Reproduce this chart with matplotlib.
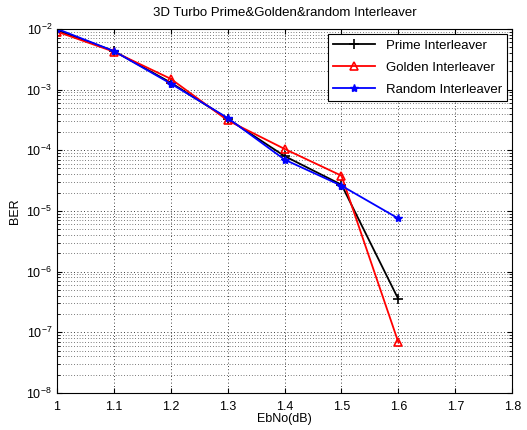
import numpy as np
import matplotlib.pyplot as plt
from matplotlib.ticker import NullFormatter, FixedLocator

plt.rcParams['font.family'] = ['Liberation Sans', 'DejaVu Sans']

# podaci ocitani sa slike
ebno = [1.0, 1.1, 1.2, 1.3, 1.4, 1.5, 1.6]
ber_prime = [9.5e-3, 4.3e-3, 1.3e-3, 3.3e-4, 8.0e-5, 2.7e-5, 3.5e-7]
ber_golden = [9.0e-3, 4.2e-3, 1.5e-3, 3.1e-4, 1.05e-4, 3.8e-5, 6.8e-8]
ber_random = [1.0e-2, 4.3e-3, 1.25e-3, 3.4e-4, 7.0e-5, 2.6e-5, 7.5e-6]

fig = plt.figure(figsize=(5.27, 4.30), dpi=100)
ax = fig.add_axes([0.108, 0.086, 0.864, 0.847])

ax.semilogy(ebno, ber_prime, 'k-', marker='+', markersize=7, linewidth=1.3,
            markeredgewidth=1.2, label='Prime Interleaver')
ax.semilogy(ebno, ber_golden, 'r-', marker='^', markersize=6, linewidth=1.3,
            markerfacecolor='none', markeredgewidth=1.2, label='Golden Interleaver')
ax.semilogy(ebno, ber_random, 'b-', marker='*', markersize=6, linewidth=1.3,
            label='Random Interleaver')

ax.set_xlim(1, 1.8)
ax.set_ylim(1e-8, 1e-2)
ax.set_xticks(np.arange(1, 1.81, 0.1))
ax.set_xticklabels(['1', '1.1', '1.2', '1.3', '1.4', '1.5', '1.6', '1.7', '1.8'])
ax.yaxis.set_major_locator(FixedLocator([10.0 ** e for e in range(-8, -1)]))
ax.yaxis.set_minor_formatter(NullFormatter())

# MATLAB-ov tockasti grid
ax.grid(True, which='major', linestyle=(0, (1, 3)), color='k', linewidth=0.6)
ax.grid(True, which='minor', axis='y', linestyle=(0, (1, 3)), color='k', linewidth=0.5)
ax.tick_params(which='both', direction='in', top=True, right=True, labelsize=9)
ax.tick_params(axis='x', pad=6)

ax.set_title('3D Turbo Prime&Golden&random Interleaver', fontsize=9.5, pad=9)
ax.set_xlabel('EbNo(dB)', fontsize=9, labelpad=0)
ax.set_ylabel('BER', fontsize=9, labelpad=4)

leg = ax.legend(loc='upper right', fontsize=9.5, fancybox=False, framealpha=1,
                edgecolor='k', handlelength=3.2, labelspacing=0.75,
                borderaxespad=0.4)
leg.get_frame().set_linewidth(0.8)

plt.savefig('out.png', dpi=100)
